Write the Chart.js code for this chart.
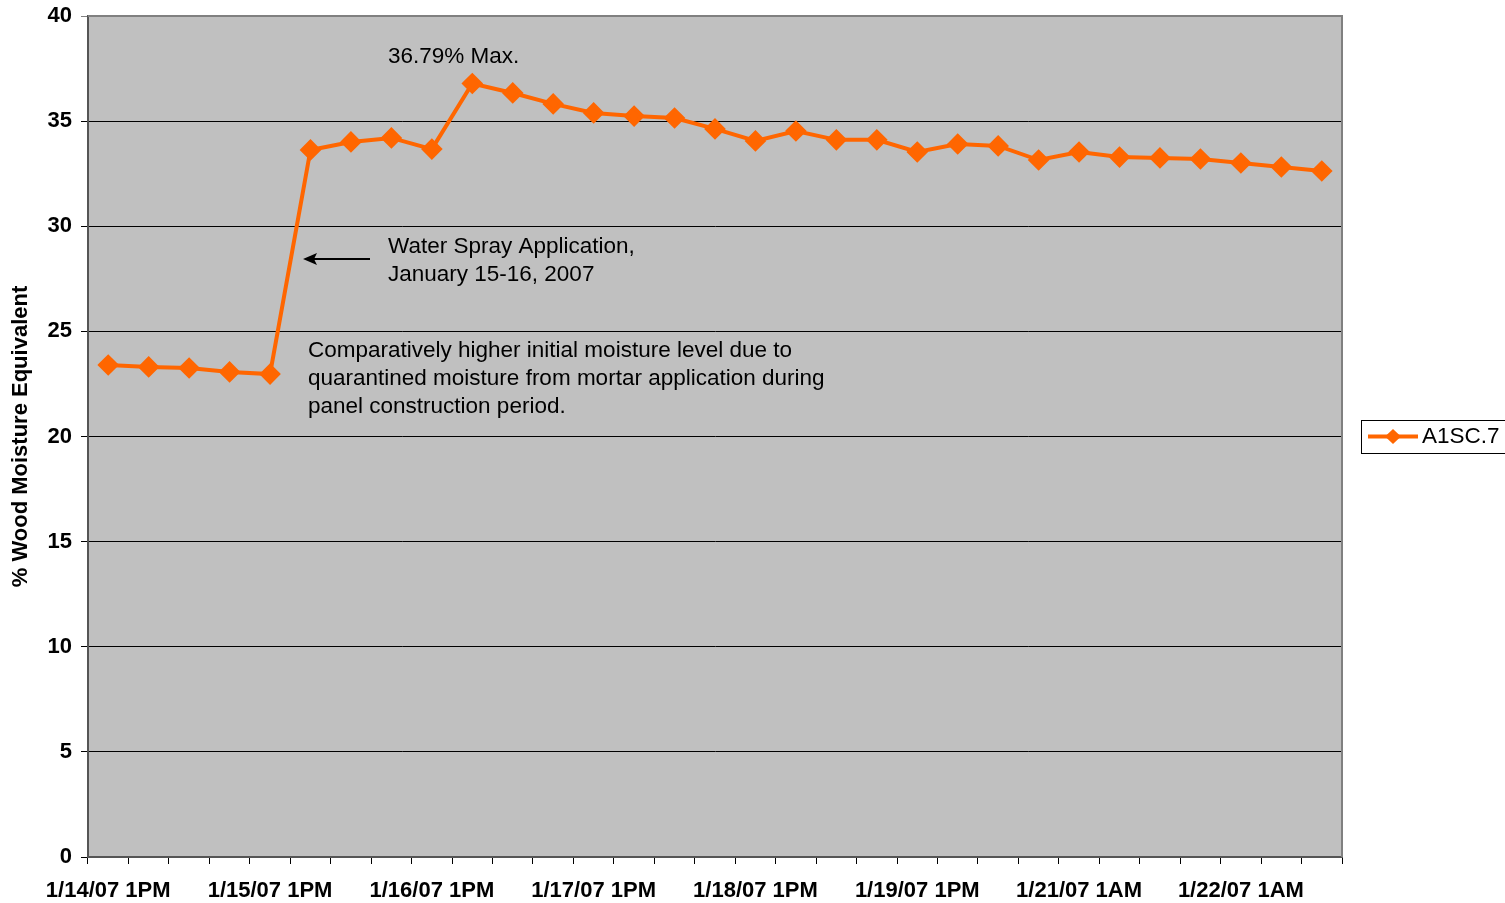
<!DOCTYPE html>
<html>
<head>
<meta charset="utf-8">
<script src="https://cdn.jsdelivr.net/npm/chart.js@4"></script>
<style>
  html, body { margin: 0; padding: 0; background: #fff; }
  #wrap { width: 1505px; height: 903px; }
</style>
</head>
<body>
<div id="wrap"><canvas id="chart"></canvas></div>
<script>
// categories: tick labels shown every 4th point, others left blank
const categories = [
    '1/14/07 1PM','','','',
    '1/15/07 1PM','','','',
    '1/16/07 1PM','','','',
    '1/17/07 1PM','','','',
    '1/18/07 1PM','','','',
    '1/19/07 1PM','','','',
    '1/21/07 1AM','','','',
    '1/22/07 1AM','',''
];
const seriesName = 'A1SC.7';
const moisture = [
    23.40, 23.31, 23.26, 23.07, 22.97,
    33.63, 34.01, 34.20, 33.67, 36.79,
    36.34, 35.82, 35.39, 35.24, 35.15,
    34.63, 34.06, 34.53, 34.11, 34.11,
    33.53, 33.91, 33.82, 33.15, 33.53,
    33.29, 33.25, 33.20, 33.01, 32.82, 32.63
];
const yTicks = [0, 5, 10, 15, 20, 25, 30, 35, 40];

const ORANGE = '#ff6600';
const FONT = '"Liberation Sans", Arial, sans-serif';

const plotBg = {
    id: 'plotBg',
    beforeDraw(chart) {
        const {ctx, chartArea: a} = chart;
        ctx.save();
        ctx.fillStyle = '#c0c0c0';
        ctx.fillRect(a.left, a.top, a.right - a.left, a.bottom - a.top);
        ctx.restore();
    },
    afterDatasetsDraw(chart) {
        const {ctx, chartArea: a} = chart;
        ctx.save();
        // right + top border
        ctx.strokeStyle = '#808080';
        ctx.lineWidth = 2;
        ctx.beginPath();
        ctx.moveTo(a.left, a.top);
        ctx.lineTo(a.right, a.top);
        ctx.lineTo(a.right, a.bottom);
        ctx.stroke();

        ctx.fillStyle = '#000';
        ctx.font = '22.5px ' + FONT;
        ctx.textBaseline = 'middle';
        ctx.textAlign = 'left';
        ctx.fillText('36.79% Max.', 388, 57);
        ctx.fillText('Water Spray Application,', 388, 247);
        ctx.fillText('January 15-16, 2007', 388, 275);
        ctx.fillText('Comparatively higher initial moisture level due to', 308, 351);
        ctx.fillText('quarantined moisture from mortar application during', 308, 379);
        ctx.fillText('panel construction period.', 308, 407);

        // arrow
        ctx.strokeStyle = '#000';
        ctx.lineWidth = 2;
        ctx.beginPath();
        ctx.moveTo(370, 259);
        ctx.lineTo(312, 259);
        ctx.stroke();
        ctx.beginPath();
        ctx.moveTo(303, 259);
        ctx.lineTo(317, 253);
        ctx.lineTo(314, 259);
        ctx.lineTo(317, 265);
        ctx.closePath();
        ctx.fill();

        // legend
        ctx.strokeStyle = '#000';
        ctx.lineWidth = 1;
        ctx.strokeRect(1361.5, 420.5, 150, 33);
        ctx.strokeStyle = ORANGE;
        ctx.lineWidth = 4;
        ctx.beginPath();
        ctx.moveTo(1368, 436.5);
        ctx.lineTo(1418, 436.5);
        ctx.stroke();
        ctx.fillStyle = ORANGE;
        ctx.beginPath();
        ctx.moveTo(1393, 429);
        ctx.lineTo(1401, 436.5);
        ctx.lineTo(1393, 444);
        ctx.lineTo(1385, 436.5);
        ctx.closePath();
        ctx.fill();
        ctx.fillStyle = '#000';
        ctx.fillText(seriesName, 1422, 437);
        ctx.restore();
    }
};

new Chart(document.getElementById('chart'), {
    type: 'line',
    data: {
        labels: categories,
        datasets: [{
            label: seriesName,
            data: moisture,
            borderColor: ORANGE,
            backgroundColor: ORANGE,
            borderWidth: 4,
            pointStyle: 'rectRot',
            pointRadius: 8,
            pointHoverRadius: 8,
            tension: 0
        }]
    },
    options: {
        responsive: true,
        maintainAspectRatio: false,
        animation: false,
        layout: {padding: {top: 16, right: 163, left: 0, bottom: 0}},
        plugins: {legend: {display: false}, tooltip: {enabled: false}},
        scales: {
            x: {
                offset: true,
                afterFit: s => { s.height = 46; },
                grid: {
                    offset: true,
                    drawOnChartArea: false,
                    tickLength: 7,
                    color: '#000',
                    lineWidth: 1
                },
                border: {color: '#555', width: 2},
                ticks: {
                    autoSkip: false,
                    maxRotation: 0,
                    minRotation: 0,
                    padding: 14,
                    color: '#000',
                    font: {family: FONT, size: 22, weight: 'bold'}
                }
            },
            y: {
                min: 0,
                max: 40,
                afterFit: s => { s.width = 88; s.paddingTop = 0; s.paddingBottom = 0; },
                afterBuildTicks: s => { s.ticks = yTicks.map(v => ({value: v})); },
                grid: {
                    color: ctx => ctx.tick && ctx.tick.value === 40 ? '#808080' : '#000',
                    lineWidth: 1,
                    tickLength: 7
                },
                border: {color: '#555', width: 2},
                ticks: {
                    padding: 9,
                    color: '#000',
                    font: {family: FONT, size: 22, weight: 'bold'}
                },
                title: {
                    display: true,
                    text: '% Wood Moisture Equivalent',
                    color: '#000',
                    padding: {top: 8, bottom: 0},
                    font: {family: FONT, size: 22, weight: 'bold'}
                }
            }
        }
    },
    plugins: [plotBg]
});
</script>
</body>
</html>
